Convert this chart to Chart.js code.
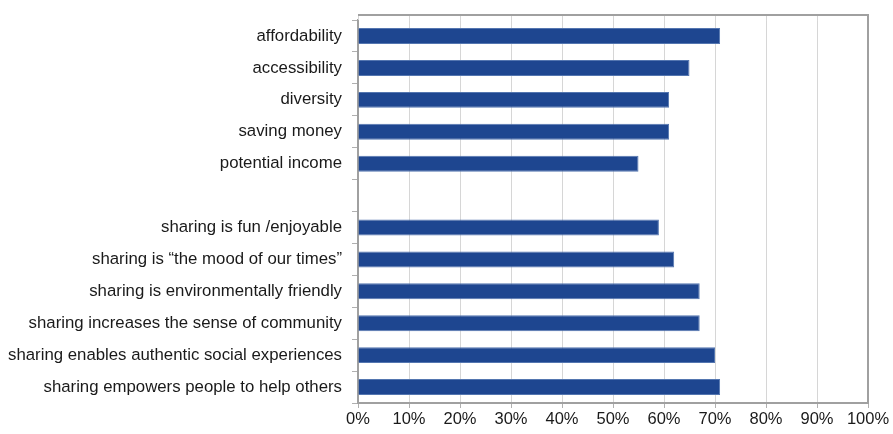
<!DOCTYPE html>
<html>
<head>
<meta charset="utf-8">
<script src="https://cdn.jsdelivr.net/npm/chart.js@4/dist/chart.umd.min.js"></script>
<style>
  html, body { margin: 0; padding: 0; background: #fff; }
  #wrap { width: 893px; height: 434px; }
</style>
</head>
<body>
<div id="wrap"><canvas id="ch"></canvas></div>
<script>
// categorias (el hueco vacio separa los dos grupos)
const categorias = [
  "affordability",
  "accessibility",
  "diversity",
  "saving money",
  "potential income",
  "",
  "sharing is fun /enjoyable",
  "sharing is \u201cthe mood of our times\u201d",
  "sharing is environmentally friendly",
  "sharing increases the sense of community",
  "sharing enables authentic social experiences",
  "sharing empowers people to help others",
];

// porcentaje de respuestas
const valores = [71, 65, 61, 61, 55, null, 59, 62, 67, 67, 70, 71];

const ticksX = [0, 10, 20, 30, 40, 50, 60, 70, 80, 90, 100];

const FUENTE = "'Liberation Sans', Arial, sans-serif";

/** Marco gris alrededor del area de la grafica (como en el original). */
const marco = {
  id: "marco",
  afterDatasetsDraw(chart) {
    const { ctx, chartArea: a, scales } = chart;
    const top = a.top - 5;
    ctx.save();
    ctx.strokeStyle = "#d6d6d6";
    ctx.lineWidth = 1;
    scales.x.ticks.forEach(t => {
      const x = Math.round(scales.x.getPixelForValue(t.value)) + 0.5;
      ctx.beginPath();
      ctx.moveTo(x, top);
      ctx.lineTo(x, a.top);
      ctx.stroke();
    });
    ctx.strokeStyle = "#a0a0a0";
    ctx.lineWidth = 2;
    ctx.beginPath();
    ctx.moveTo(a.left, top);
    ctx.lineTo(a.right, top);
    ctx.lineTo(a.right, a.bottom);
    ctx.stroke();
    ctx.restore();
  },
};

new Chart(document.getElementById("ch"), {
  type: "bar",
  data: {
    labels: categorias,
    datasets: [{
      data: valores,
      backgroundColor: "#1e4690",
      borderColor: "#5476b0",
      borderWidth: 1,
      barPercentage: 0.5,
      categoryPercentage: 1,
    }],
  },
  options: {
    indexAxis: "y",
    responsive: true,
    maintainAspectRatio: false,
    animation: false,
    layout: { padding: { top: 15, right: 25, left: 0, bottom: 0 } },
    plugins: { legend: { display: false }, tooltip: { enabled: false } },
    scales: {
      x: {
        min: 0,
        max: 100,
        afterBuildTicks: s => { s.ticks = ticksX.map(v => ({ value: v })); },
        afterFit: s => { s.height = 31; },
        grid: { color: "#d6d6d6", lineWidth: 1, tickLength: 5, tickColor: "#b0b0b0" },
        border: { color: "#a0a0a0", width: 2 },
        ticks: {
          callback: v => v + "%",
          color: "#1a1a1a",
          font: { family: FUENTE, size: 16.5 },
          padding: 2,
          maxRotation: 0,
        },
      },
      y: {
        afterFit: s => { s.width = 358; },
        grid: { drawOnChartArea: false, tickLength: 6, color: "#b0b0b0", offset: true },
        border: { color: "#a0a0a0", width: 2 },
        ticks: {
          color: "#1a1a1a",
          font: { family: FUENTE, size: 16.8 },
          padding: 10,
          autoSkip: false,
        },
      },
    },
  },
  plugins: [marco],
});
</script>
</body>
</html>
